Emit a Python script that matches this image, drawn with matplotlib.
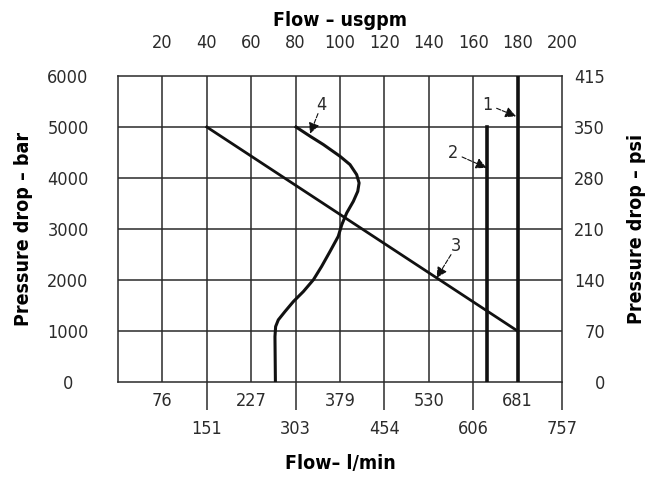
import matplotlib
matplotlib.use("Agg")
import matplotlib.pyplot as plt

plt.rcParams['font.family'] = ['DejaVu Sans']
plt.rcParams['font.stretch'] = 'condensed'

# top axis (usgpm) and bottom axis (l/min)
usgpm_ticks = [20, 40, 60, 80, 100, 120, 140, 160, 180, 200]
lmin_upper_pos = [20, 60, 100, 140, 180]
lmin_upper_lbl = ["76", "227", "379", "530", "681"]
lmin_lower_pos = [40, 80, 120, 160, 200]
lmin_lower_lbl = ["151", "303", "454", "606", "757"]

bar_ticks = [0, 1000, 2000, 3000, 4000, 5000, 6000]
psi_labels = ["0", "70", "140", "210", "280", "350", "415"]

# curves (flow in usgpm, pressure drop in bar)
c1_flow = [180, 180]
c1_bar = [0, 6000]
c2_flow = [166, 166]
c2_bar = [0, 5000]
c3_flow = [40, 180]
c3_bar = [5000, 1000]
c4_flow = [80.2, 86.5, 92.5, 100, 104.5, 107.5, 108.6, 108, 106, 103, 100.8, 99.2,
           95.5, 91.7, 88, 83.5, 79, 75.2, 72.2, 71, 70.7, 70.9]
c4_bar = [5000, 4820, 4656, 4426, 4263, 4067, 3903, 3739, 3542, 3314, 3084, 2855,
          2560, 2265, 2004, 1774, 1578, 1381, 1218, 1087, 890, 0]

# labels: (text, label pos, arrow tip)
callouts = [
    ("1", (166.5, 5440), (179.3, 5210)),
    ("2", (151, 4490), (166, 4200)),
    ("3", (152.3, 2660), (143.5, 2040)),
    ("4", (91.7, 5440), (86.5, 4870)),
]

fig = plt.figure(figsize=(6.56, 4.79), dpi=100)
ax = fig.add_axes([0.1799, 0.2025, 0.6768, 0.6388])
ax.set_xlim(0, 200)
ax.set_ylim(0, 6000)

gridc = "#2a2a2a"
txtc = "#2b2b2b"
for v in usgpm_ticks[:-1]:
    ax.axvline(v, color=gridc, lw=1.1, zorder=1)
for v in bar_ticks[1:-1]:
    ax.axhline(v, color=gridc, lw=1.1, zorder=1)
for s in ax.spines.values():
    s.set_color(gridc)
    s.set_linewidth(1.1)

ax.plot(c1_flow, c1_bar, color="#111111", lw=2.6, zorder=3)
ax.plot(c2_flow, c2_bar, color="#111111", lw=2.6, zorder=3)
ax.plot(c3_flow, c3_bar, color="#111111", lw=2.0, zorder=3)
ax.plot(c4_flow, c4_bar, color="#111111", lw=2.2, zorder=3, solid_joinstyle="round")

for txt, pos, tip in callouts:
    ax.annotate("", xy=tip, xytext=pos, zorder=4,
                arrowprops=dict(arrowstyle="-|>", color="#111111", lw=0.8, ls=(0, (4, 1.5)),
                                shrinkA=7, shrinkB=0, mutation_scale=16))
    ax.text(pos[0], pos[1], txt, fontsize=13, ha="center", va="center",
            color=txtc, zorder=5)

# left axis
ax.set_yticks(bar_ticks)
ax.set_yticklabels([str(v) for v in bar_ticks], ha="center")
ax.tick_params(axis="y", length=0, pad=36, labelsize=13, colors=txtc)
ax.set_ylabel("Pressure drop – bar", fontsize=14, fontweight="bold", labelpad=10)

# bottom axis, staggered labels
ax.set_xticks(lmin_lower_pos)
ax.set_xticklabels(lmin_lower_lbl)
ax.set_xticks(lmin_upper_pos, minor=True)
ax.set_xticklabels(lmin_upper_lbl, minor=True)
ax.tick_params(axis="x", which="major", direction="out", length=20, width=1.1,
               pad=7, labelsize=13, colors=txtc)
ax.tick_params(axis="x", which="minor", length=0, pad=7, labelsize=13, colors=txtc)
ax.set_xlabel("Flow– l/min", fontsize=14, fontweight="bold", labelpad=12)

# top axis
top = ax.secondary_xaxis("top")
top.set_xticks(usgpm_ticks)
top.set_xticklabels([str(v) for v in usgpm_ticks])
top.tick_params(length=0, pad=17, labelsize=13, colors=txtc)
top.set_xlabel("Flow – usgpm", fontsize=14, fontweight="bold", labelpad=6)
top.spines["top"].set_visible(False)

# right axis
right = ax.secondary_yaxis("right")
right.set_yticks(bar_ticks)
right.set_yticklabels(psi_labels, ha="right")
right.tick_params(length=0, pad=31, labelsize=13, colors=txtc)
right.set_ylabel("Pressure drop – psi", fontsize=14, fontweight="bold", labelpad=16)
right.spines["right"].set_visible(False)

fig.savefig("out.png", dpi=100)
